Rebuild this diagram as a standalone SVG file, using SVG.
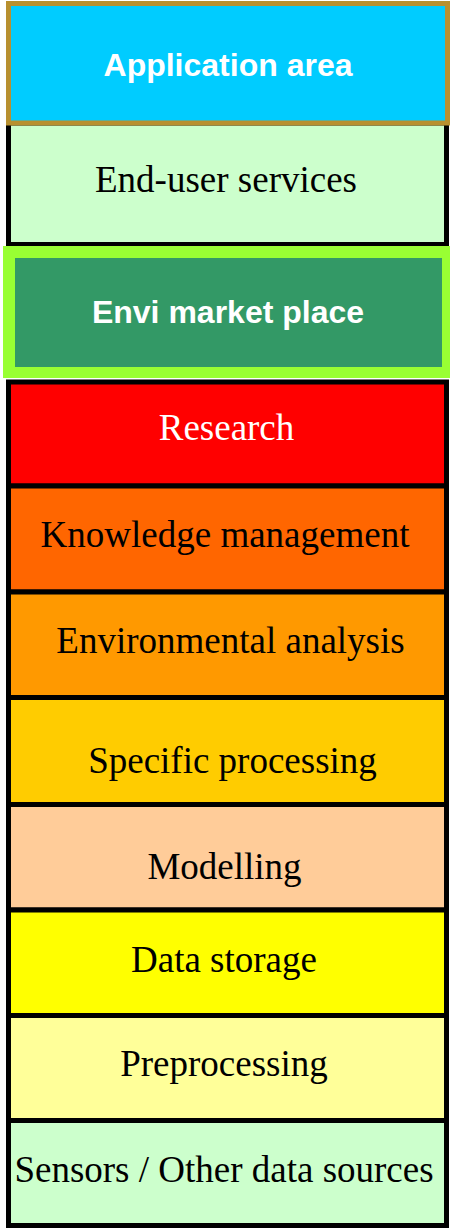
<svg xmlns="http://www.w3.org/2000/svg" width="451" height="1232" viewBox="0 0 451 1232">
<style>
.layer{stroke:#000;stroke-width:5}
.t{font-family:"Liberation Serif","Times New Roman",serif;font-size:37px;fill:#000;text-anchor:middle}
.b{font-family:"Liberation Sans",Arial,sans-serif;font-weight:bold;fill:#fff;text-anchor:middle}
</style>
<rect width="451" height="1232" fill="#fff"/>
<g id="end-user-services">
<rect class="layer" x="8.5" y="123" width="438" height="121.5" fill="#ccffcc"/>
<text class="t" x="226" y="192">End-user services</text>
</g>
<g id="application-area">
<rect x="8.5" y="3.5" width="439" height="119.5" fill="#00ccff" stroke="#b8902f" stroke-width="5"/>
<text class="b" x="228" y="76" font-size="32">Application area</text>
</g>
<g id="envi-market-place">
<rect x="3" y="246" width="447" height="132" fill="#99ff33"/>
<rect x="15" y="258" width="427" height="109" fill="#339966"/>
<text class="b" x="228" y="323" font-size="32">Envi market place</text>
</g>
<g id="research">
<rect class="layer" x="8.5" y="382" width="438" height="104" fill="#ff0000"/>
<text class="t" x="226.5" y="440" style="fill:#fff">Research</text>
</g>
<g id="knowledge-management">
<rect class="layer" x="8.5" y="486" width="438" height="106" fill="#ff6600"/>
<text class="t" x="225" y="547">Knowledge management</text>
</g>
<g id="environmental-analysis">
<rect class="layer" x="8.5" y="592" width="438" height="105.5" fill="#ff9900"/>
<text class="t" x="230.5" y="653">Environmental analysis</text>
</g>
<g id="specific-processing">
<rect class="layer" x="8.5" y="697.5" width="438" height="107" fill="#ffcc00"/>
<text class="t" x="232.5" y="773">Specific processing</text>
</g>
<g id="modelling">
<rect class="layer" x="8.5" y="804.5" width="438" height="105.5" fill="#ffcc99"/>
<text class="t" x="224.5" y="879">Modelling</text>
</g>
<g id="data-storage">
<rect class="layer" x="8.5" y="910" width="438" height="105.5" fill="#ffff00"/>
<text class="t" x="224" y="972">Data storage</text>
</g>
<g id="preprocessing">
<rect class="layer" x="8.5" y="1015.5" width="438" height="105" fill="#ffff99"/>
<text class="t" x="224" y="1076">Preprocessing</text>
</g>
<g id="sensors">
<rect class="layer" x="8.5" y="1120.5" width="438" height="105" fill="#ccffcc"/>
<text class="t" x="224" y="1182">Sensors / Other data sources</text>
</g>
<g id="connectors"></g>
</svg>
